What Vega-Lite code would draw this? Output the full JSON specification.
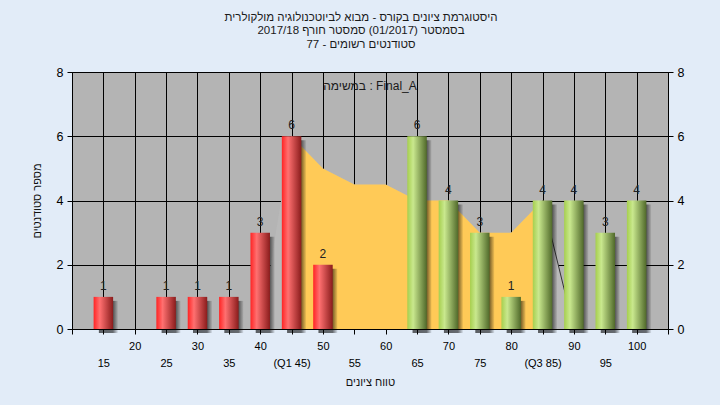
{
  "$schema": "https://vega.github.io/schema/vega-lite/v6.json",
  "width": 596,
  "height": 257,
  "autosize": "none",
  "padding": {"left": 72, "top": 72, "right": 52, "bottom": 76},
  "background": "#e2ecf8",
  "config": {
    "view": {"fill": "#b4b4b4", "stroke": "#000000", "strokeWidth": 1},
    "font": "Liberation Sans",
    "axis": {"labelColor": "#000000", "titleColor": "#111111", "titleFontWeight": "normal", "tickColor": "#000000", "domain": false, "gridColor": "#000000", "gridOpacity": 1, "gridWidth": 1}
  },
  "title": {
    "text": ["היסטוגרמת ציונים בקורס - מבוא לביוטכנולוגיה מולקולרית", "בסמסטר  (01/2017)  סמסטר חורף 2017/18", "סטודנטים רשומים - 77"],
    "anchor": "middle",
    "fontSize": 11.5,
    "fontWeight": "normal",
    "color": "#1a1a1a",
    "lineHeight": 13.5,
    "offset": 16,
    "dx": -9
  },
  "datasets": {
    "bars": [
      {"grade": 15, "n": 1, "group": "low"},
      {"grade": 25, "n": 1, "group": "low"},
      {"grade": 30, "n": 1, "group": "low"},
      {"grade": 35, "n": 1, "group": "low"},
      {"grade": 40, "n": 3, "group": "low"},
      {"grade": 45, "n": 6, "group": "low"},
      {"grade": 50, "n": 2, "group": "low"},
      {"grade": 65, "n": 6, "group": "high"},
      {"grade": 70, "n": 4, "group": "high"},
      {"grade": 75, "n": 3, "group": "high"},
      {"grade": 80, "n": 1, "group": "high"},
      {"grade": 85, "n": 4, "group": "high"},
      {"grade": 90, "n": 4, "group": "high"},
      {"grade": 95, "n": 3, "group": "high"},
      {"grade": 100, "n": 4, "group": "high"}
    ],
    "curve": [
      {"grade": 40, "n": 0},
      {"grade": 45, "n": 6},
      {"grade": 50, "n": 5},
      {"grade": 55, "n": 4.5},
      {"grade": 60, "n": 4.5},
      {"grade": 65, "n": 4},
      {"grade": 70, "n": 4},
      {"grade": 75, "n": 3},
      {"grade": 80, "n": 3},
      {"grade": 85, "n": 4},
      {"grade": 90, "n": 0}
    ]
  },
  "layer": [
    {
      "encoding": {
        "x": {
          "field": "grade", "type": "quantitative",
          "scale": {"domain": [10, 105], "nice": false, "zero": false, "padding": 0},
          "axis": {
            "title": "טווח ציונים",
            "titleFontSize": 11,
            "titlePadding": 8,
            "values": [10, 15, 20, 25, 30, 35, 40, 45, 50, 55, 60, 65, 70, 75, 80, 85, 90, 95, 100, 105],
            "labelExpr": "datum.value == 10 || datum.value == 105 ? '' : datum.value == 45 ? ['', '(Q1 45)'] : datum.value == 85 ? ['', '(Q3 85)'] : datum.value % 10 == 0 ? datum.label : ['', datum.label]",
            "labelFontSize": 11,
            "labelLineHeight": 17,
            "labelPadding": 6,
            "labelOverlap": false,
            "labelFlush": false,
            "labelBound": false,
            "tickSize": 5,
            "grid": true
          }
        },
        "y": {
          "field": "n", "type": "quantitative",
          "scale": {"domain": [0, 8], "nice": false},
          "axis": {
            "title": "מספר סטודנטים",
            "titleFontSize": 11,
            "titlePadding": 14,
            "values": [0, 2, 4, 6, 8],
            "labelFontSize": 12.5,
            "labelPadding": 4,
            "tickSize": 5,
            "grid": true
          }
        }
      },
      "layer": [
        {
          "data": {"name": "curve"},
          "mark": {"type": "area", "color": "#b9b9b9", "opacity": 1}
        },
        {
          "data": {"name": "curve"},
          "transform": [{"filter": "datum.grade >= 45 && datum.grade <= 85"}],
          "mark": {"type": "area", "color": "#ffca57", "opacity": 1}
        },
        {
          "data": {"name": "curve"},
          "transform": [{"filter": "datum.grade >= 85"}],
          "mark": {"type": "line", "color": "#333333", "strokeWidth": 1}
        },
        {
          "data": {"name": "bars"},
          "mark": {
            "type": "bar", "orient": "vertical", "size": 19, "xOffset": 5, "yOffset": 4,
            "color": {"gradient": "linear", "x1": 0, "x2": 1, "y1": 0, "y2": 0,
              "stops": [{"offset": 0, "color": "rgba(0,0,0,0.6)"}, {"offset": 0.74, "color": "rgba(0,0,0,0.55)"}, {"offset": 1, "color": "rgba(0,0,0,0.06)"}]}
          }
        },
        {
          "data": {"name": "bars"},
          "transform": [{"filter": "datum.group == 'low'"}],
          "mark": {
            "type": "bar", "orient": "vertical", "size": 19.5,
            "color": {"gradient": "linear", "x1": 0, "x2": 1, "y1": 0, "y2": 0,
              "stops": [{"offset": 0, "color": "#ff2424"}, {"offset": 0.32, "color": "#ff7070"}, {"offset": 1, "color": "#8a1c1c"}]}
          }
        },
        {
          "data": {"name": "bars"},
          "transform": [{"filter": "datum.group == 'high'"}],
          "mark": {
            "type": "bar", "orient": "vertical", "size": 19.5,
            "color": {"gradient": "linear", "x1": 0, "x2": 1, "y1": 0, "y2": 0,
              "stops": [{"offset": 0, "color": "#a6cf4e"}, {"offset": 0.3, "color": "#c9e88e"}, {"offset": 1, "color": "#50692a"}]}
          }
        },
        {
          "data": {"name": "bars"},
          "mark": {"type": "text", "baseline": "alphabetic", "dy": -7, "fontSize": 12, "color": "#222222"},
          "encoding": {"text": {"field": "n", "type": "quantitative"}}
        },
        {
          "data": {"values": [{"label": "במשימה : Final_A", "grade": 57.5, "n": 7.55}]},
          "mark": {"type": "text", "fontSize": 12, "color": "#1a1a1a", "baseline": "middle"},
          "encoding": {"text": {"field": "label", "type": "nominal"}}
        }
      ]
    },
    {
      "data": {"name": "bars"},
      "mark": {"type": "tick", "opacity": 0},
      "encoding": {
        "y": {
          "field": "n", "type": "quantitative",
          "scale": {"domain": [0, 8], "nice": false},
          "axis": {"orient": "right", "title": null, "values": [0, 2, 4, 6, 8], "labelFontSize": 12.5, "labelPadding": 4, "tickSize": 5, "grid": false}
        }
      }
    }
  ],
  "resolve": {"scale": {"y": "independent"}}
}
